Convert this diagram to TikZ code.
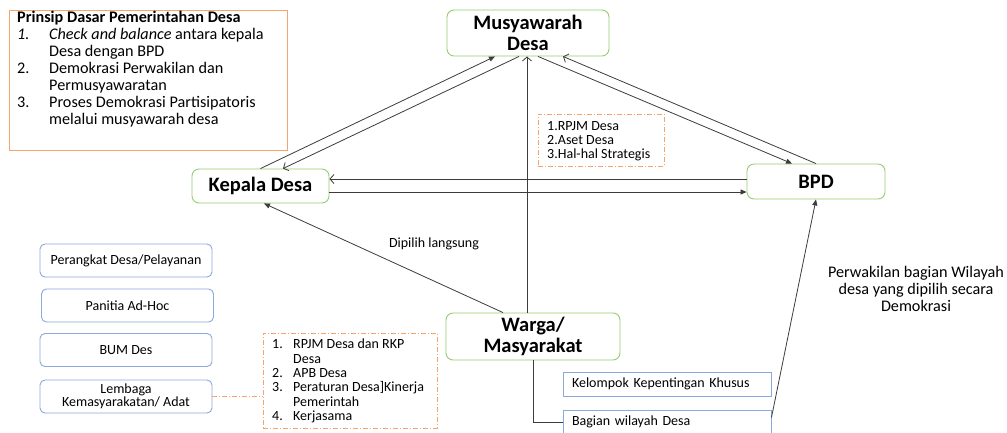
\documentclass[tikz,border=0pt]{standalone}
\usepackage{fontspec}
\setmainfont{Carlito}
\usetikzlibrary{arrows.meta,calc}
\definecolor{gcol}{RGB}{150,205,115}
\definecolor{bcol}{RGB}{140,168,220}
\definecolor{ocol}{RGB}{244,165,110}
\definecolor{lcol}{RGB}{60,60,60}
\begin{document}
\begin{tikzpicture}[x=1pt,y=-1pt,
  gbox/.style={draw=gcol, line width=0.9pt, rounded corners=7pt, align=center, inner sep=0pt,
    font=\bfseries\fontsize{20.5}{21}\selectfont},
  bbox/.style={draw=bcol, line width=0.9pt, rounded corners=5pt, align=center, inner sep=0pt,
    minimum width=172pt, minimum height=33pt, font=\fontsize{14}{13.5}\selectfont},
  sqbox/.style={draw=bcol, line width=0.9pt, align=left, inner ysep=0pt, inner xsep=9pt,
    text width=190pt, minimum height=24pt, font=\fontsize{14}{14}\selectfont},
  odash/.style={draw=ocol, line width=0.8pt, dash pattern=on 5pt off 2pt on 1pt off 2pt},
  conn/.style={draw=lcol, line width=0.8pt},
  arrF/.style={conn, -{Triangle[length=6pt,width=5pt]}},
  arrO/.style={conn, -{Straight Barb[length=4pt,width=9pt]}},
  txt/.style={inner sep=0pt, font=\fontsize{14}{14}\selectfont}
]
\useasboundingbox (0,0) rectangle (1007,432);
\clip (0,0) rectangle (1007,432);
\fill[white] (0,0) rectangle (1007,432);

% principle box
\node[draw=ocol, line width=1pt, minimum width=278pt, minimum height=140pt, inner sep=0pt] (pb) at (148,80) {};
\node[anchor=north west, align=left, inner sep=0pt, font=\fontsize{16.2}{17}\selectfont] (pt) at (17,11)
 {\textbf{Prinsip Dasar Pemerintahan Desa}\\
  \makebox[32pt][l]{\textit{1.}}\textit{Check and balance} antara kepala\\
  \hspace*{32pt}Desa dengan BPD\\
  \makebox[32pt][l]{2.}Demokrasi Perwakilan dan\\
  \hspace*{32pt}Permusyawaratan\\
  \makebox[32pt][l]{3.}Proses Demokrasi Partisipatoris\\
  \hspace*{32pt}melalui musyawarah desa};

% main nodes
\node[gbox, minimum width=162pt, minimum height=46pt] (mw) at (528,33) {Musyawarah\\Desa};
\node[gbox, minimum width=137pt, minimum height=34pt] (kd) at (260.5,186) {Kepala Desa};
\node[gbox, minimum width=138pt, minimum height=35pt] (bpd) at (816,181.5) {BPD};
\node[gbox, minimum width=174pt, minimum height=47pt] (wg) at (533,336.5) {Warga/\\Masyarakat};

% RPJM box
\node[odash, minimum width=126pt, minimum height=52pt, inner sep=0pt] (rp) at (601,140) {};
\node[txt, anchor=west, align=left, font=\fontsize{14}{14}\selectfont] (rpt) at (547,141)
 {1.RPJM Desa\\2.Aset Desa\\3.Hal-hal Strategis};

% left boxes
\node[bbox] (pd) at (126,260.5) {Perangkat Desa/Pelayanan};
\node[bbox] (pa) at (127.5,305.5) {Panitia Ad-Hoc};
\node[bbox] (bum) at (126,350) {BUM Des};
\node[bbox] (lk) at (126,396.5) {Lembaga\\Kemasyarakatan/ Adat};

% list box
\node[odash, minimum width=174pt, minimum height=95pt, inner sep=0pt] (lb) at (350,380.5) {};
\node[txt, anchor=north west, align=left, font=\fontsize{14}{14.3}\selectfont] (lbt) at (272,339)
 {\makebox[21pt][l]{1.}RPJM Desa dan RKP\\
  \hspace*{21pt}Desa\\
  \makebox[21pt][l]{2.}APB Desa\\
  \makebox[21pt][l]{3.}Peraturan Desa]Kinerja\\
  \hspace*{21pt}Pemerintah\\
  \makebox[21pt][l]{4.}Kerjasama};
\draw[odash] (lk.east) -- (lk.east -| lb.west);

% right lower boxes
\node[sqbox] (kk) at (667,384) {Kelompok Kepentingan Khusus};
\node[sqbox] (bw) at (667,422) {Bagian wilayah Desa};

% labels
\node[txt] (dl) at (434,244) {Dipilih langsung};
\node[inner sep=0pt, align=center, font=\fontsize{16.2}{17}\selectfont] (pw) at (916,289)
 {Perwakilan bagian Wilayah\\desa yang dipilih secara\\Demokrasi};

% connectors
\draw[arrF] (kd.north) -- ([xshift=-33pt]mw.south);
\draw[arrO] ([xshift=-9pt]mw.south) -- ([xshift=22.5pt]kd.north);
\draw[arrF] ([xshift=10pt]mw.south) -- ([xshift=-24pt]bpd.north);
\draw[arrO] (bpd.north) -- ([xshift=35pt]mw.south);
\coordinate (h1) at ([yshift=2.5pt]bpd.west);
\coordinate (h2) at ([yshift=-10.5pt]bpd.west);
\draw[arrO] (h1) -- (kd.east |- h1);
\draw[arrF] (kd.east |- h2) -- (h2);
\draw[arrF] ([xshift=-30pt]wg.north) -- ([xshift=3.5pt]kd.south);
\coordinate (v1) at ([xshift=-6pt]wg.north);
\draw[arrO] (v1) -- (v1 |- mw.south);
\draw[conn] (wg.south) |- (bw.west);
\draw[arrF] ([yshift=-8pt]bw.north east) -- (bpd.south);
\end{tikzpicture}
\end{document}
